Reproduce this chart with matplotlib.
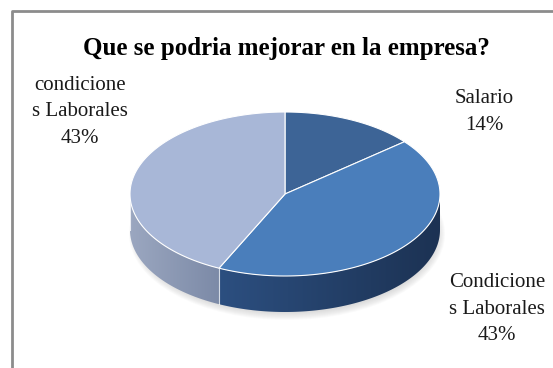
import numpy as np
import matplotlib.pyplot as plt
from matplotlib.patches import Polygon, Ellipse
from matplotlib.colors import LinearSegmentedColormap

titulo = 'Que se podria mejorar en la empresa?'
etiquetas = ['Salario', 'Condicione\ns Laborales', 'condicione\ns Laborales']
valores = [14, 43, 43]
colores_top = ['#3d6496', '#4a7ebb', '#a8b7d7']
colores_lado = [('#2a4a75', '#1a2f4f'), ('#2c4f80', '#1c3253'), ('#9ba7c0', '#7c8aa7')]

# geometria del pastel en pixeles
cx, cy = 285, 194
a, b = 155, 82
prof = 36

fig = plt.figure(figsize=(5.53, 3.68), dpi=100)
ax = fig.add_axes([0, 0, 1, 1])
ax.set_xlim(0, 553)
ax.set_ylim(368, 0)
ax.axis('off')

# marco
ax.plot([12, 12, 560], [380, 11, 11], color='#8c8c8c', lw=2, solid_capstyle='butt')


def punto(t, dy=0):
    t = np.radians(t)
    return cx + a * np.cos(t), cy - b * np.sin(t) + dy


def arco(t1, t2, dy=0, n=120):
    ts = np.linspace(t1, t2, n)
    return [punto(t, dy) for t in ts]


# sombra suave
for i in range(8):
    ax.add_patch(Ellipse((cx + 2, cy + prof + 4), 2 * a + 6 - i * 2, 2 * b + 8 - i * 2,
                         color='gray', alpha=0.035, lw=0, zorder=1))

total = sum(valores)
angulos = [90]
for v in valores:
    angulos.append(angulos[-1] - 360 * v / total)

# lados (solo la parte frontal, angulos entre -180 y 0)
for i in range(len(valores)):
    t1, t2 = angulos[i], angulos[i + 1]
    lo, hi = max(t2, -180), min(t1, 0)
    if hi <= lo:
        continue
    pts = arco(hi, lo) + arco(lo, hi, dy=prof)
    poly = Polygon(pts, closed=True, facecolor='none', edgecolor='none', zorder=2)
    ax.add_patch(poly)
    xs = [p[0] for p in pts]
    cmap = LinearSegmentedColormap.from_list('lado', colores_lado[i])
    grad = np.linspace(0, 1, 256).reshape(1, -1)
    im = ax.imshow(grad, cmap=cmap, aspect='auto', zorder=2,
                   extent=[min(xs), max(xs), cy + b + prof + 2, cy - 2])
    im.set_clip_path(poly)
    x0, y0 = punto(lo)
    ax.plot([x0, x0], [y0, y0 + prof], color='white', lw=0.8, alpha=0.8, zorder=3)

ax.set_xlim(0, 553)
ax.set_ylim(368, 0)

# caras superiores
for i in range(len(valores)):
    pts = [(cx, cy)] + arco(angulos[i], angulos[i + 1])
    ax.add_patch(Polygon(pts, closed=True, facecolor=colores_top[i],
                         edgecolor='white', lw=0.8, zorder=4))

# textos
ax.text(286, 48, titulo, ha='center', va='center', fontsize=18,
        fontweight='bold', family='Liberation Serif', color='black')
pos_etiquetas = [(484, 112), (497, 309), (80, 112)]
for (x, y), lab, v in zip(pos_etiquetas, etiquetas, valores):
    ax.text(x, y, f'{lab}\n{v}%', ha='center', va='center', fontsize=15,
            family='Liberation Serif', linespacing=1.55, color='#1a1a1a')

fig.savefig('out.png', dpi=100)
